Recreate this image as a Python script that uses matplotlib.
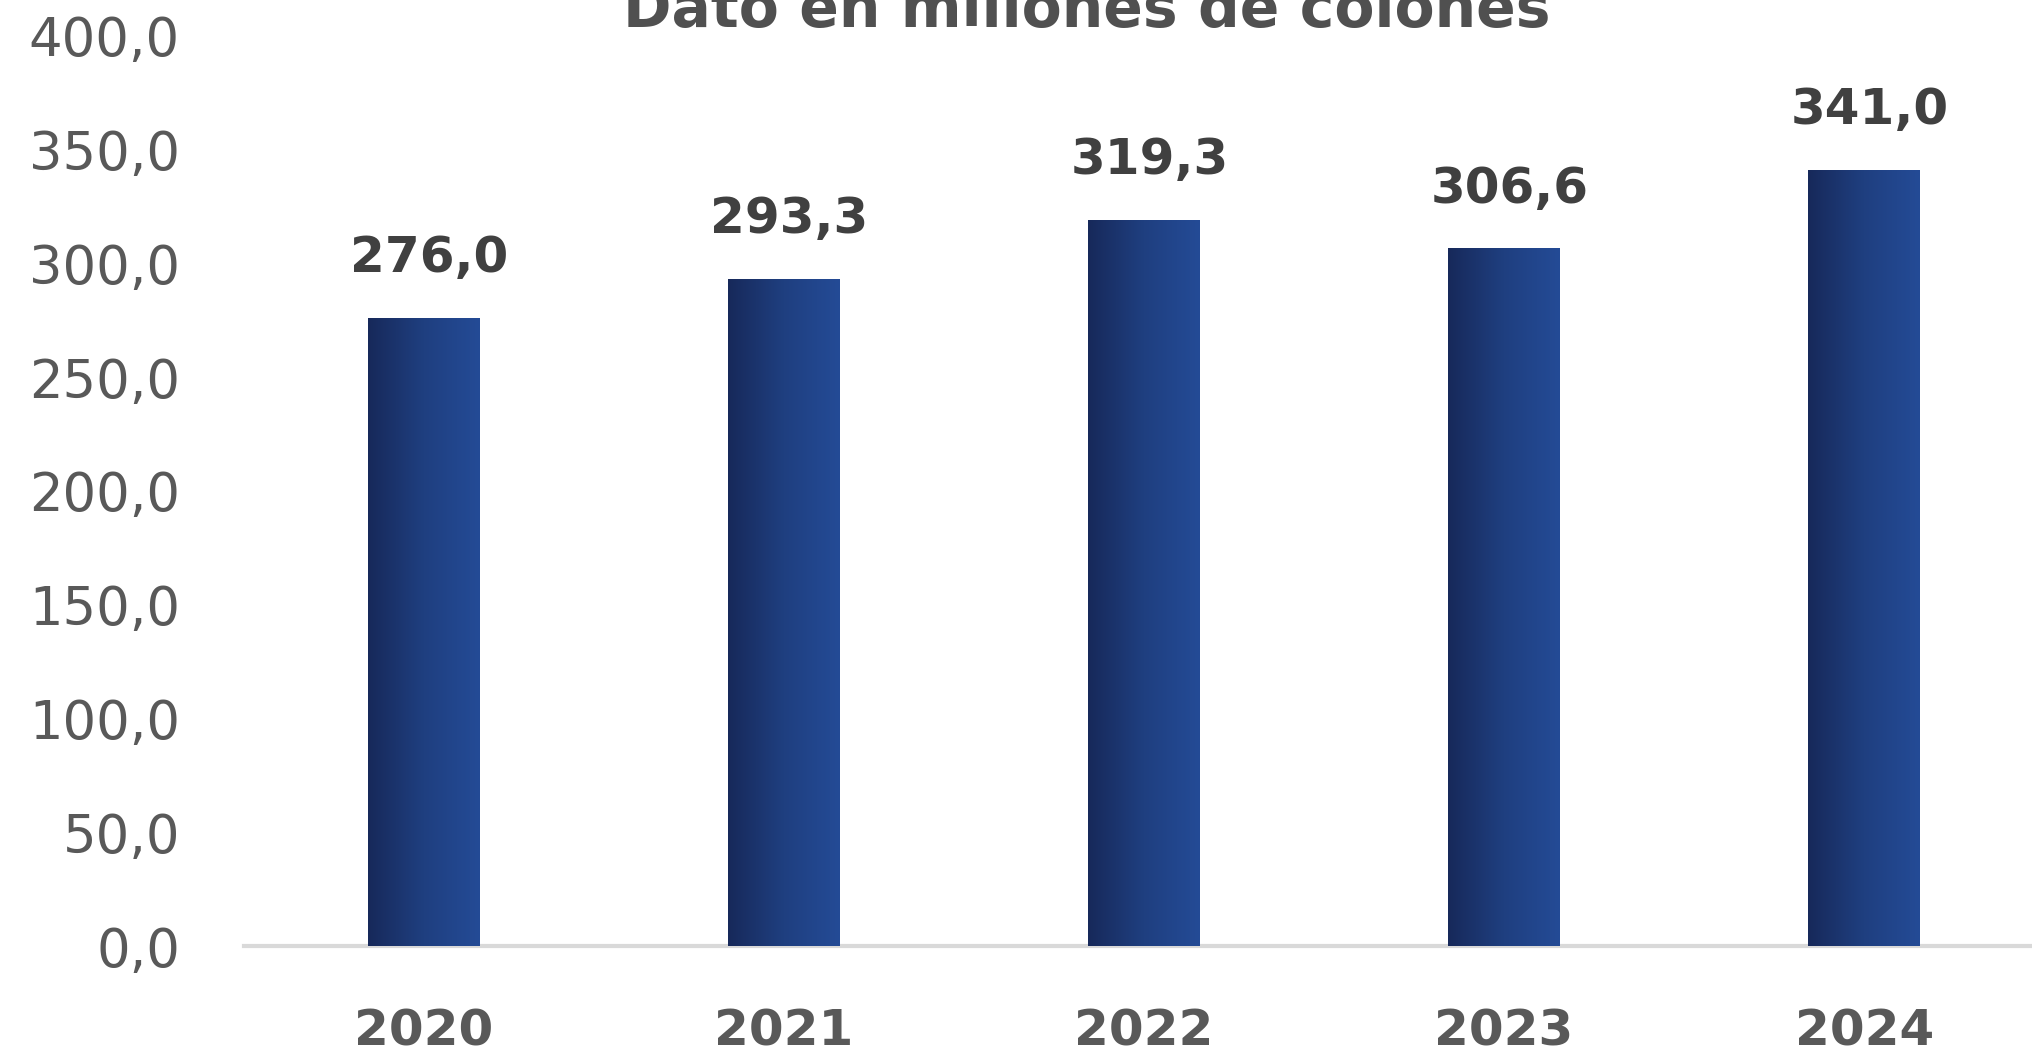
import numpy as np
from matplotlib import pyplot as plt
from matplotlib.colors import LinearSegmentedColormap

years = ["2020", "2021", "2022", "2023", "2024"]
values = [276.0, 293.3, 319.3, 306.6, 341.0]
yticks = [0, 50, 100, 150, 200, 250, 300, 350, 400]
title = "Dato en millones de colones"

plt.rcParams['font.family'] = ['DejaVu Sans']


def fmt(v):
    return f"{v:.1f}".replace(".", ",")


fig = plt.figure(figsize=(20.32, 10.55), dpi=100)
ax = fig.add_axes([0.120, 0.1033, 0.886, 0.8626])

x = np.arange(len(years))
bars = ax.bar(x, values, width=0.31, color="#1f3f7f", zorder=2)

# horizontal gradient inside each bar
cmap = LinearSegmentedColormap.from_list("navy", ["#17295a", "#1f3f80", "#244b96"])
grad = np.linspace(0, 1, 256).reshape(1, -1)
for b in bars:
    x0, w, h = b.get_x(), b.get_width(), b.get_height()
    im = ax.imshow(grad, cmap=cmap, aspect="auto", extent=(x0, x0 + w, 0, h), zorder=3)
    im.set_clip_path(b)

for xi, v in zip(x, values):
    ax.annotate(fmt(v), (xi, v), xytext=(4, 43), textcoords="offset points",
                ha="center", va="center", fontsize=36, fontweight="bold", color="#404040")

ax.set_xlim(-0.5, 4.5)
ax.set_ylim(0, 400)
ax.set_yticks(yticks)
ax.set_yticklabels([fmt(t) for t in yticks], fontsize=38, color="#595959")
ax.set_xticks(x)
ax.set_xticklabels(years, fontsize=36, fontweight="bold", color="#595959")
ax.tick_params(axis="y", length=0, pad=46)
ax.tick_params(axis="x", length=0, pad=44)

for s in ["top", "right", "left"]:
    ax.spines[s].set_visible(False)
ax.spines["bottom"].set_color("#d9d9d9")
ax.spines["bottom"].set_linewidth(3)
ax.spines["bottom"].set_zorder(1)

fig.text(1087 / 2032, 1 - 27 / 1055, title, ha="center", va="baseline",
         fontsize=42, fontweight="bold", color="#505050")

fig.savefig("out.png", dpi=100)
